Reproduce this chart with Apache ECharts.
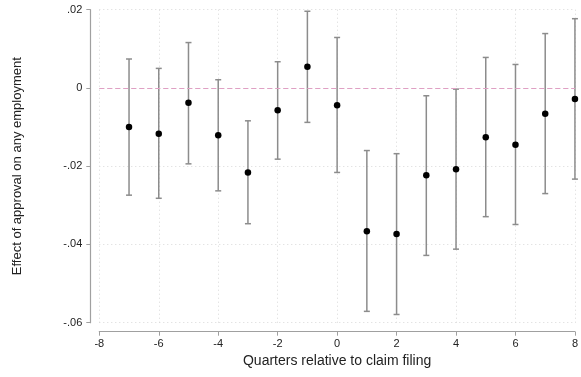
<!DOCTYPE html>
<html>
<head>
<meta charset="utf-8">
<script src="https://cdn.jsdelivr.net/npm/echarts@6/dist/echarts.min.js"></script>
<style>html,body{margin:0;padding:0;background:#fff;}#c{width:581px;height:377px;}</style>
</head>
<body>
<div id="c"></div>
<script>
var quarters = [-7,-6,-5,-4,-3,-2,-1,0,1,2,3,4,5,6,7,8];
var estimates = [-0.0100,-0.0117,-0.0038,-0.0121,-0.0216,-0.0057,0.0054,-0.0044,-0.0366,-0.0373,-0.0223,-0.0208,-0.0126,-0.0145,-0.0066,-0.0028];
var upperCI = [0.0074,0.0050,0.0116,0.0021,-0.0084,0.0067,0.0196,0.0129,-0.0160,-0.0168,-0.0020,-0.0003,0.0078,0.0060,0.0139,0.0177];
var lowerCI = [-0.0274,-0.0282,-0.0194,-0.0263,-0.0347,-0.0182,-0.0088,-0.0216,-0.0571,-0.0579,-0.0428,-0.0412,-0.0329,-0.0349,-0.0270,-0.0233];
var xTicks = [-8,-6,-4,-2,0,2,4,6,8];
var yTicks = [-0.06,-0.04,-0.02,0,0.02];

function fmtY(v){
  if (Math.abs(v) < 1e-9) return '0';
  var s = (Math.round(v*100)/100).toFixed(2);
  return s.replace('0.', '.');
}

var chart = echarts.init(document.getElementById('c'), null, {renderer:'canvas'});
var font = 'Liberation Sans, Arial, sans-serif';
var axisGray = '#a0a0a0';
var gridLine = {show:true, lineStyle:{color:'#d8d8d8', type:[1,3], width:1}};

chart.setOption({
  animation:false,
  grid:{left:99.3, right:3.7, top:9.7, bottom:54.3},
  xAxis:{
    type:'value', min:-8, max:8, interval:2, offset:9,
    name:'Quarters relative to claim filing', nameLocation:'middle', nameGap:21,
    nameTextStyle:{fontFamily:font, fontSize:14, color:'#222'},
    axisLine:{show:true, onZero:false, lineStyle:{color:axisGray, width:1.2}},
    axisTick:{show:true, length:4, lineStyle:{color:axisGray}},
    axisLabel:{fontFamily:font, fontSize:11, color:'#222', margin:7, formatter:function(v){return String(v);}},
    splitLine:gridLine
  },
  yAxis:{
    type:'value', min:-0.06, max:0.02, interval:0.02, offset:9,
    name:'Effect of approval on any employment', nameLocation:'middle', nameGap:66,
    nameTextStyle:{fontFamily:font, fontSize:13, color:'#222'},
    axisLine:{show:true, onZero:false, lineStyle:{color:axisGray, width:1.2}},
    axisTick:{show:true, length:4, lineStyle:{color:axisGray}},
    axisLabel:{fontFamily:font, fontSize:11, color:'#222', margin:8, formatter:fmtY},
    splitLine:gridLine
  },
  series:[
    {
      type:'custom',
      data: quarters.map(function(q,i){return [q, lowerCI[i], upperCI[i]];}),
      renderItem:function(params, api){
        var lo = api.coord([api.value(0), api.value(1)]);
        var hi = api.coord([api.value(0), api.value(2)]);
        var hw = 3;
        var st = {stroke:'#8c8c8c', lineWidth:1.5};
        return {type:'group', children:[
          {type:'line', shape:{x1:lo[0], y1:lo[1], x2:hi[0], y2:hi[1]}, style:st},
          {type:'line', shape:{x1:lo[0]-hw, y1:lo[1], x2:lo[0]+hw, y2:lo[1]}, style:st},
          {type:'line', shape:{x1:hi[0]-hw, y1:hi[1], x2:hi[0]+hw, y2:hi[1]}, style:st}
        ]};
      },
      markLine:{
        silent:true, symbol:'none', label:{show:false},
        lineStyle:{color:'#e0a0c4', type:[5,3], width:1.2},
        data:[{yAxis:0}]
      },
      z:2
    },
    {
      type:'scatter',
      data: quarters.map(function(q,i){return [q, estimates[i]];}),
      symbol:'circle', symbolSize:6.5,
      itemStyle:{color:'#000', opacity:1},
      z:3
    }
  ]
});
</script>
</body>
</html>
